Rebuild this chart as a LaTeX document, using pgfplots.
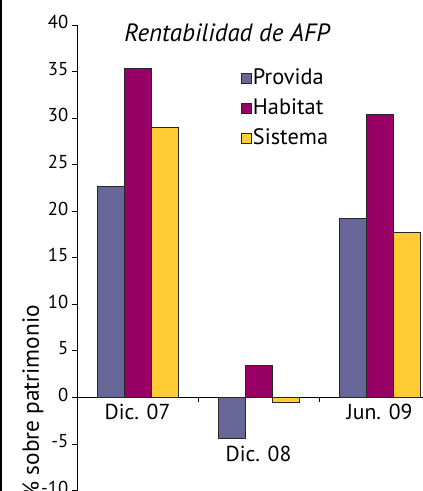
\documentclass[border=0pt]{standalone}
\usepackage{pgfplots}
\pgfplotsset{compat=1.18}
\usepackage{fontspec}
\setmainfont{PT Sans}
\definecolor{provida}{HTML}{666699}
\definecolor{habitat}{HTML}{990066}
\definecolor{sistema}{HTML}{FFCC33}
\begin{document}
\begin{tikzpicture}
\useasboundingbox (0,0) rectangle (317.25pt,368.25pt);
\clip (0,0) rectangle (317.25pt,368.25pt);
\begin{axis}[
  at={(57.75pt,0.375pt)}, anchor=south west,
  scale only axis, width=272.25pt, height=349.125pt,
  xmin=-0.5, xmax=2.5, ymin=-10, ymax=40,
  axis x line=middle, axis y line=left,
  axis line style={-, black, line width=0.7pt},
  ytick={-10,-5,...,40},
  xtick={0.5,1.5},
  xticklabels={},
  tick align=outside,
  major tick length=3.5pt,
  tick style={black, line width=0.6pt},
  /pgf/number format/assume math mode=true,
  yticklabel style={font=\fontsize{14}{16}\selectfont, yshift=2pt, xshift=0.5pt},
  ybar=0pt, bar width=20.25pt,
  every axis plot/.append style={draw=black!85, line width=0.5pt},
  legend style={at={(rel axis cs:0.451,0.908)}, anchor=north west, draw=none, fill=none,
    font=\fontsize{16.75}{18}\selectfont, row sep=6.5pt, inner sep=0pt,
    nodes={inner sep=1pt, text height=11pt, text depth=3pt}},
  legend cell align=left,
  legend image code/.code={\draw[#1] (0pt,-3.75pt) rectangle (7.5pt,3.75pt);},
]
\addplot[fill=provida] coordinates {(0,22.7) (1,-4.4) (2,19.2)};
\addplot[fill=habitat] coordinates {(0,35.3) (1,3.4) (2,30.4)};
\addplot[fill=sistema] coordinates {(0,29.0) (1,-0.5) (2,17.7)};
\legend{Provida,Habitat,Sistema}
\node[anchor=base, font=\fontsize{16.25}{18}\selectfont] at (axis cs:0,-2.37) {Dic. 07};
\node[anchor=base, font=\fontsize{16.25}{18}\selectfont] at (axis cs:1,-6.85) {Dic. 08};
\node[anchor=base, font=\fontsize{16.25}{18}\selectfont] at (axis cs:2,-2.37) {Jun. 09};
\end{axis}
\node[anchor=base, font=\fontsize{18.75}{20}\selectfont\itshape] at (170.25pt,336.75pt) {Rentabilidad de AFP};
\node[rotate=90, anchor=east, font=\fontsize{17.5}{20}\selectfont] at (24.75pt,143pt) {\% sobre patrimonio};
\draw[line width=1.5pt] (0.75pt,0) -- (0.75pt,368.25pt);
\end{tikzpicture}
\end{document}
